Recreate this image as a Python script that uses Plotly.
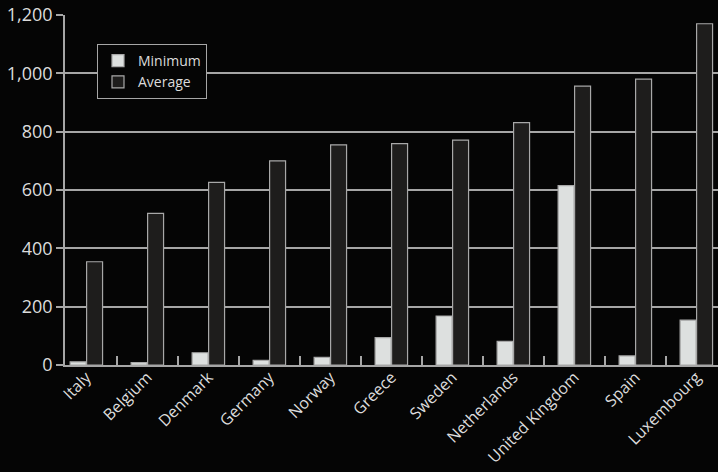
import plotly.graph_objects as go

countries = ["Italy", "Belgium", "Denmark", "Germany", "Norway", "Greece",
             "Sweden", "Netherlands", "United Kingdom", "Spain", "Luxembourg"]
minimum = [11, 8, 42, 16, 26, 94, 168, 81, 615, 31, 154]
average = [354, 520, 626, 700, 755, 759, 771, 831, 956, 980, 1170]
y_ticks = [0, 200, 400, 600, 800, 1000, 1200]

grid = "#a6a6a6"
txt = "#dcdcdc"
font = "Open Sans, Noto Sans, sans-serif"

fig = go.Figure()
fig.add_trace(go.Bar(
    name="Minimum", x=countries, y=minimum,
    marker=dict(color="#dde0df", line=dict(color="#a8a8a8", width=1.2)),
))
fig.add_trace(go.Bar(
    name="Average", x=countries, y=average,
    marker=dict(color="#1e1d1c", line=dict(color="#a8a8a8", width=1.2)),
))

fig.update_layout(
    width=718, height=472,
    margin=dict(l=65, r=0, t=15, b=107),
    paper_bgcolor="#050505", plot_bgcolor="#050505",
    barmode="group", bargap=0.46, bargroupgap=0.03,
    font=dict(family=font, color=txt, size=15),
    showlegend=True,
    legend=dict(
        x=0.049, y=0.917, xanchor="left", yanchor="top",
        bgcolor="#050505", bordercolor=grid, borderwidth=1,
        font=dict(size=14, color=txt),
        itemwidth=30, tracegroupgap=0,
    ),
    xaxis=dict(
        type="category", range=[-0.35, 10.355], automargin=False,
        tickangle=-45, tickson="boundaries",
        ticks="inside", ticklen=9, tickcolor=grid, tickwidth=1.5,
        ticklabelstandoff=-5,
        showline=True, linecolor=grid, linewidth=1.5,
        showgrid=False, tickfont=dict(size=16, color=txt),
    ),
    yaxis=dict(
        range=[0, 1200], tickvals=y_ticks, tickformat=",d", automargin=False,
        ticks="outside", ticklen=7, tickcolor=grid, tickwidth=1.5,
        showline=True, linecolor=grid, linewidth=1.5,
        showgrid=True, gridcolor=grid, gridwidth=1.5,
        zeroline=False, tickfont=dict(size=18, color=txt),
    ),
)

fig.write_html(
    "out.html",
    config={"displayModeBar": False},
    post_script="document.body.style.margin='0';document.body.style.background='#050505';",
)
